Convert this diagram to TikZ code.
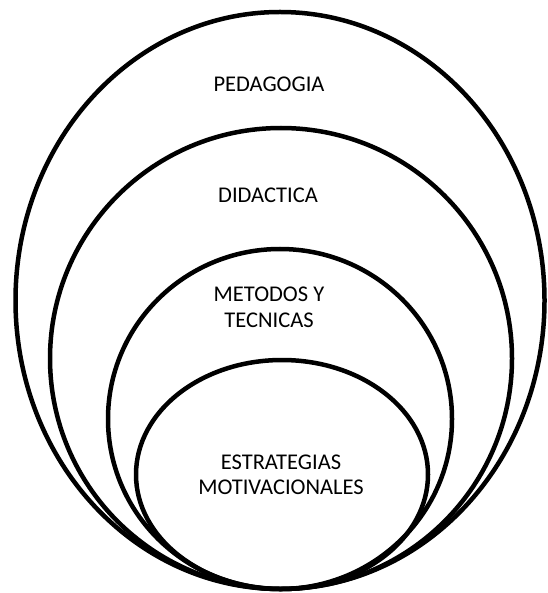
\documentclass[tikz,border=0pt]{standalone}
\usepackage{fontspec}
\setmainfont{Carlito}

\begin{document}
\begin{tikzpicture}[x=1pt,y=-1pt,
    ring/.style={draw, line width=4.5pt},
    label/.style={align=center, font=\fontsize{22.5}{25.5}\selectfont}]
\useasboundingbox (0,0) rectangle (547,593);
% nested ellipses, all touching at the bottom
\draw[ring] (280,300.5) ellipse [x radius=264.5, y radius=288.5];
\draw[ring] (281,358.5) ellipse [x radius=231, y radius=230.5];
\draw[ring] (280,419) ellipse [x radius=172, y radius=170];
\draw[ring] (282,474.5) ellipse [x radius=146, y radius=114.5];
% labels
\node[label] (pedagogia) at (269,84) {PEDAGOGIA};
\node[label] (didactica) at (268,195) {DIDACTICA};
\node[label] (metodos) at (269,307.5) {METODOS Y\\TECNICAS};
\node[label] (estrategias) at (281,475) {ESTRATEGIAS\\MOTIVACIONALES};
\end{tikzpicture}
\end{document}
